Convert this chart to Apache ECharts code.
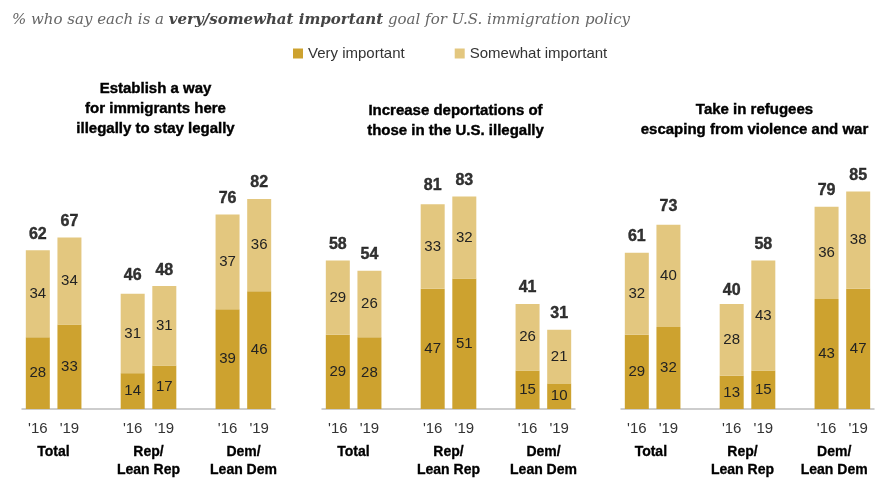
<!DOCTYPE html>
<html>
<head>
<meta charset="utf-8">
<script src="https://cdn.jsdelivr.net/npm/echarts@6/dist/echarts.min.js"></script>
<style>
  html, body { margin: 0; padding: 0; background: #fff; }
  #chart { width: 880px; height: 479px; }
</style>
</head>
<body>
<div id="chart"></div>
<script>
// Survey: share saying each goal is very / somewhat important, 2016 vs 2019
const years = ["'16", "'19"];
const groups = ['Total', 'Rep/\nLean Rep', 'Dem/\nLean Dem'];

const goalTitles = [
  'Establish a way\nfor immigrants here\nillegally to stay legally',
  'Increase deportations of\nthose in the U.S. illegally',
  'Take in refugees\nescaping from violence and war'
];

// Order per goal: Total '16, '19, Rep '16, '19, Dem '16, '19
const veryImportant = [
  [28, 33, 14, 17, 39, 46],
  [29, 28, 47, 51, 15, 10],
  [29, 32, 13, 15, 43, 47]
];
const somewhatImportant = [
  [34, 34, 31, 31, 37, 36],
  [29, 26, 33, 32, 26, 21],
  [32, 40, 28, 43, 36, 38]
];
const netImportant = [
  [62, 67, 46, 48, 76, 82],
  [58, 54, 81, 83, 41, 31],
  [61, 73, 40, 58, 79, 85]
];

const COLOR_VERY = '#CDA22F';
const COLOR_SOME = '#E3C77F';
const FONT = '"Liberation Sans", Arial, sans-serif';
const SERIF = '"DejaVu Serif", Georgia, serif';

// Slots on each panel's category axis: two years per group, a blank slot between groups
const slotLabels = [];
groups.forEach((g, gi) => {
  years.forEach(y => slotLabels.push(y));
  if (gi < groups.length - 1) slotLabels.push('');
});
function toSlots(values) {
  const out = [];
  values.forEach((v, i) => {
    out.push(v);
    if (i % 2 === 1 && i < values.length - 1) out.push('-');
  });
  return out;
}

const panelLeft = [22, 322, 621];
const panelWidth = 253;
const plotTop = 153;
const plotHeight = 256;
const titleTop = [74, 96, 95];

const grid = [], xAxis = [], yAxis = [], series = [], titles = [];

titles.push({
  text: '% who say each is a {b|very/somewhat important} goal for U.S. immigration policy',
  left: 7, top: 8,
  textStyle: {
    fontFamily: SERIF,
    fontStyle: 'italic', fontWeight: 'normal', fontSize: 15, color: '#666',
    rich: {
      b: { fontFamily: SERIF, fontStyle: 'italic',
           fontWeight: 'bold', fontSize: 15, color: '#444' }
    }
  }
});

goalTitles.forEach((t, p) => {
  const left = panelLeft[p];
  titles.push({
    text: t,
    left: left + panelWidth / 2 + 2,
    top: titleTop[p],
    textAlign: 'center',
    textStyle: { fontFamily: FONT, fontWeight: 'bold', fontSize: 15, lineHeight: 20, color: '#000',
                 textBorderColor: '#000', textBorderWidth: 0.4 }
  });

  // grid for the bars
  grid.push({ left: left, top: plotTop, width: panelWidth, height: plotHeight });
  // grid carrying the group names centred under each pair
  grid.push({ left: left - 16, top: plotTop, width: panelWidth + 32, height: plotHeight });

  const gBar = p * 2, gGrp = p * 2 + 1;

  xAxis.push({
    type: 'category', gridIndex: gBar, data: slotLabels,
    axisTick: { show: false },
    axisLine: { lineStyle: { color: '#bdbdbd', width: 1.5 } },
    axisLabel: { interval: 0, margin: 12, fontFamily: FONT, fontSize: 15, color: '#333' }
  });
  xAxis.push({
    type: 'category', gridIndex: gGrp, data: groups,
    axisTick: { show: false }, axisLine: { show: false },
    axisLabel: { interval: 0, margin: 34, fontFamily: FONT, fontWeight: 'bold',
                 fontSize: 14, lineHeight: 18, color: '#000',
                 textBorderColor: '#000', textBorderWidth: 0.3 }
  });
  yAxis.push({ type: 'value', gridIndex: gBar, min: 0, max: 100, show: false });
  yAxis.push({ type: 'value', gridIndex: gGrp, min: 0, max: 100, show: false });

  const insideLabel = {
    show: true, position: 'inside', fontFamily: FONT, fontSize: 15, color: '#222'
  };
  series.push({
    name: 'Very important', type: 'bar', stack: 'g' + p,
    xAxisIndex: gBar, yAxisIndex: gBar, barWidth: 24,
    itemStyle: { color: COLOR_VERY },
    label: insideLabel,
    data: toSlots(veryImportant[p])
  });
  series.push({
    name: 'Somewhat important', type: 'bar', stack: 'g' + p,
    xAxisIndex: gBar, yAxisIndex: gBar, barWidth: 24,
    itemStyle: { color: COLOR_SOME },
    label: insideLabel,
    data: toSlots(somewhatImportant[p])
  });
  // NET values written above each bar
  series.push({
    name: 'NET', type: 'scatter',
    xAxisIndex: gBar, yAxisIndex: gBar, symbolSize: 0, silent: true,
    label: { show: true, position: 'top', distance: 8, fontFamily: FONT,
             fontWeight: 'bold', fontSize: 16, color: '#000',
             textBorderColor: '#000', textBorderWidth: 0.4 },
    data: toSlots(netImportant[p])
  });
});

const chart = echarts.init(document.getElementById('chart'), null, { renderer: 'canvas' });
chart.setOption({
  animation: false,
  backgroundColor: '#fff',
  title: titles,
  legend: {
    data: ['Very important', 'Somewhat important'],
    left: 288, top: 41,
    icon: 'rect', itemWidth: 10, itemHeight: 10, itemGap: 50,
    textStyle: { fontFamily: FONT, fontSize: 15, color: '#333' }
  },
  grid: grid,
  xAxis: xAxis,
  yAxis: yAxis,
  series: series
});
</script>
</body>
</html>
